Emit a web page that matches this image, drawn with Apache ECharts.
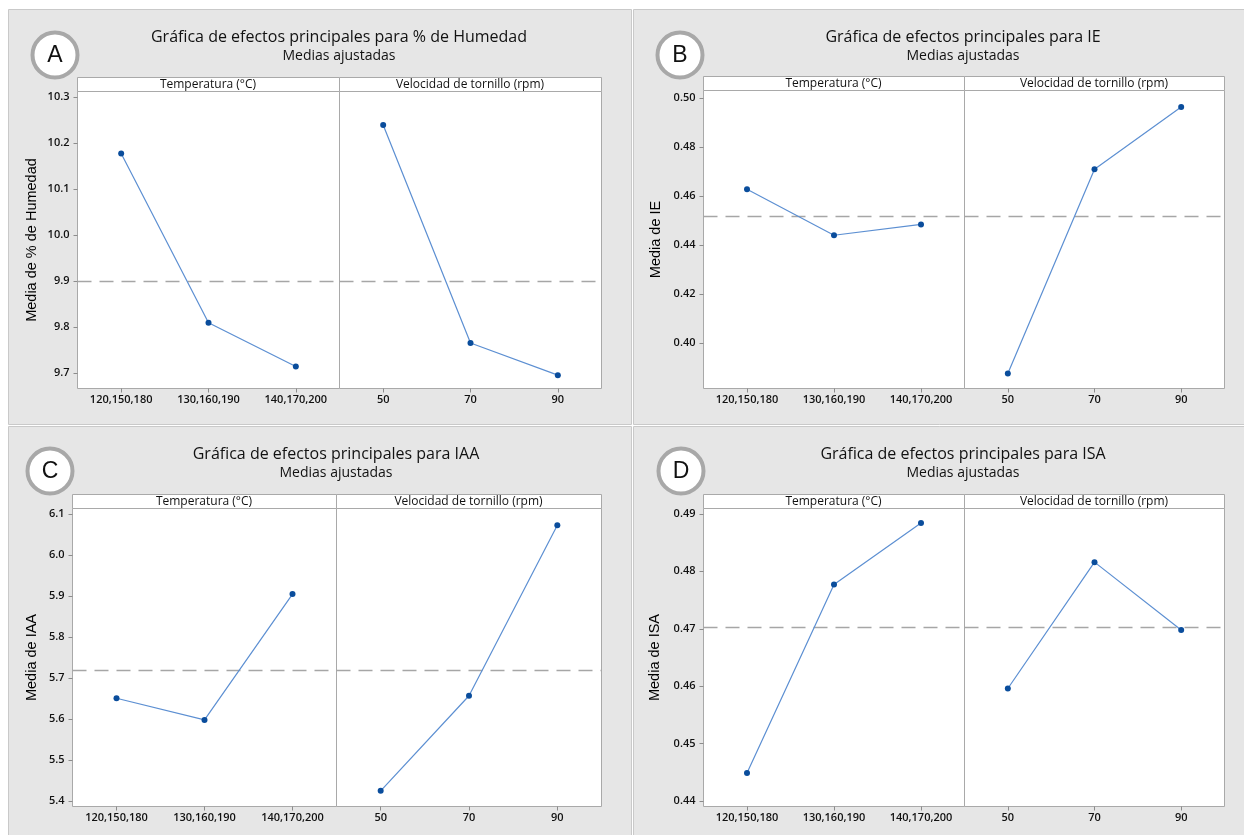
<!DOCTYPE html>
<html>
<head>
<meta charset="utf-8">
<title>Gráficas de efectos principales</title>
<script src="https://cdn.jsdelivr.net/npm/echarts@6/dist/echarts.min.js"></script>
<style>
  html, body { margin: 0; padding: 0; background: #ffffff; }
  #chart { width: 1244px; height: 835px; }
</style>
</head>
<body>
<div id="chart"></div>
<script>
// Factor levels
const tempLevels = ['120,150,180', '130,160,190', '140,170,200'];
const speedLevels = ['50', '70', '90'];

// Adjusted means: % de Humedad
const humedadTemp = [10.177, 9.809, 9.714];
const humedadSpeed = [10.239, 9.765, 9.695];
const humedadTicks = [9.7, 9.8, 9.9, 10.0, 10.1, 10.2, 10.3];

// Adjusted means: IE
const ieTemp = [0.4628, 0.4440, 0.4484];
const ieSpeed = [0.3875, 0.4710, 0.4964];
const ieTicks = [0.40, 0.42, 0.44, 0.46, 0.48, 0.50];

// Adjusted means: IAA
const iaaTemp = [5.651, 5.598, 5.905];
const iaaSpeed = [5.425, 5.657, 6.073];
const iaaTicks = [5.4, 5.5, 5.6, 5.7, 5.8, 5.9, 6.0, 6.1];

// Adjusted means: ISA
const isaTemp = [0.4449, 0.4777, 0.4884];
const isaSpeed = [0.4596, 0.4816, 0.4698];
const isaTicks = [0.44, 0.45, 0.46, 0.47, 0.48, 0.49];

const stripLabels = ['Temperatura (°C)', 'Velocidad de tornillo (rpm)'];
const subtitleText = 'Medias ajustadas';

const panels = [
  { letter: 'A', title: 'Gráfica de efectos principales para % de Humedad', yName: 'Media de % de Humedad',
    temp: humedadTemp, speed: humedadSpeed, ticks: humedadTicks, decimals: 1, yRange: [9.666, 10.312],
    box: [8, 9, 623, 415], circle: [55, 55], titleX: 339, titleY: 37, subY: 56,
    plot: { left: 77, mid: 339, right: 601, top: 77, strip: 91, bottom: 388 }, nameGap: 38 },
  { letter: 'B', title: 'Gráfica de efectos principales para IE', yName: 'Media de IE',
    temp: ieTemp, speed: ieSpeed, ticks: ieTicks, decimals: 2, yRange: [0.38136, 0.50315],
    box: [633, 9, 620, 415], circle: [680, 55], titleX: 963, titleY: 37, subY: 56,
    plot: { left: 703, mid: 964, right: 1224, top: 76, strip: 90, bottom: 388 }, nameGap: 40 },
  { letter: 'C', title: 'Gráfica de efectos principales para IAA', yName: 'Media de IAA',
    temp: iaaTemp, speed: iaaSpeed, ticks: iaaTicks, decimals: 1, yRange: [5.3868, 6.1139],
    box: [8, 426, 623, 415], circle: [50, 471], titleX: 336, titleY: 454, subY: 473,
    plot: { left: 72, mid: 336, right: 601, top: 494, strip: 508, bottom: 806 }, nameGap: 33 },
  { letter: 'D', title: 'Gráfica de efectos principales para ISA', yName: 'Media de ISA',
    temp: isaTemp, speed: isaSpeed, ticks: isaTicks, decimals: 2, yRange: [0.43906, 0.49094],
    box: [633, 426, 620, 415], circle: [681, 471], titleX: 963, titleY: 454, subY: 473,
    plot: { left: 703, mid: 964, right: 1224, top: 494, strip: 508, bottom: 806 }, nameGap: 41 }
];

const FONT = '"Open Sans", "Noto Sans", sans-serif';
const FRAME = '#a9a9a9';
const LINE_BLUE = '#5c8fd2';
const DOT_BLUE = '#0a4d9c';

const mean = arr => arr.reduce((s, v) => s + v, 0) / arr.length;

const grids = [], xAxes = [], yAxes = [], series = [], graphics = [];

panels.forEach((p, pi) => {
  const [bx, by, bw, bh] = p.box;
  // panel background
  graphics.push({ type: 'rect', z: -10, shape: { x: bx + 0.5, y: by + 0.5, width: bw, height: bh },
    style: { fill: '#e6e6e6', stroke: '#c9c9c9', lineWidth: 1 } });
  // letter badge
  graphics.push({ type: 'circle', z: 5, shape: { cx: p.circle[0], cy: p.circle[1], r: 22.5 },
    style: { fill: '#ffffff', stroke: '#a8a8a8', lineWidth: 4 } });
  graphics.push({ type: 'text', z: 6, x: p.circle[0], y: p.circle[1] + 1,
    style: { text: p.letter, font: '23px "Liberation Sans", Arial, sans-serif', fill: '#111',
      textAlign: 'center', textVerticalAlign: 'middle', align: 'center', verticalAlign: 'middle' } });
  // titles
  graphics.push({ type: 'text', z: 6, x: p.titleX, y: p.titleY,
    style: { text: p.title, font: '16px ' + FONT, fill: '#111',
      textAlign: 'center', textVerticalAlign: 'middle', align: 'center', verticalAlign: 'middle' } });
  graphics.push({ type: 'text', z: 6, x: p.titleX, y: p.subY,
    style: { text: subtitleText, font: '14px ' + FONT, fill: '#111',
      textAlign: 'center', textVerticalAlign: 'middle', align: 'center', verticalAlign: 'middle' } });

  const pl = p.plot;
  const halves = [[pl.left, pl.mid], [pl.mid, pl.right]];
  const grand = mean(p.temp.concat(p.speed));

  halves.forEach(([x0, x1], hi) => {
    // strip header
    graphics.push({ type: 'rect', z: 1, shape: { x: x0 + 0.5, y: pl.top + 0.5, width: x1 - x0, height: pl.strip - pl.top },
      style: { fill: '#ffffff', stroke: FRAME, lineWidth: 1 } });
    graphics.push({ type: 'text', z: 2, x: (x0 + x1) / 2, y: (pl.top + pl.strip) / 2 + 0.5,
      style: { text: stripLabels[hi], font: '500 12px ' + FONT, fill: '#111',
        textAlign: 'center', textVerticalAlign: 'middle', align: 'center', verticalAlign: 'middle' } });

    const gi = grids.length;
    grids.push({ left: x0 + 0.5, top: pl.strip + 0.5, width: x1 - x0, height: pl.bottom - pl.strip,
      show: true, backgroundColor: '#ffffff', borderColor: FRAME, borderWidth: 1, containLabel: false });

    xAxes.push({
      type: 'category', gridIndex: gi, data: hi === 0 ? tempLevels : speedLevels, boundaryGap: true,
      axisLine: { show: false },
      axisTick: { show: true, alignWithLabel: true, length: 4, lineStyle: { color: '#8c8c8c' } },
      axisLabel: { interval: 0, margin: 6, color: '#111', fontSize: 11, fontWeight: 600, fontFamily: FONT },
      splitLine: { show: false }
    });

    const yBase = { type: 'value', gridIndex: gi, min: p.yRange[0], max: p.yRange[1],
      splitLine: { show: false }, axisLine: { show: false } };
    if (hi === 0) {
      yAxes.push(Object.assign(yBase, {
        axisTick: { show: true, length: 4, customValues: p.ticks, lineStyle: { color: '#8c8c8c' } },
        axisLabel: { customValues: p.ticks, margin: 8, color: '#111', fontSize: 11, fontWeight: 600, fontFamily: FONT,
          formatter: v => Number(v).toFixed(p.decimals) },
        name: p.yName, nameLocation: 'middle', nameRotate: 90, nameGap: p.nameGap,
        nameTextStyle: { fontSize: 14.5, color: '#000', fontFamily: '"Liberation Sans", Arial, sans-serif' }
      }));
    } else {
      yAxes.push(Object.assign(yBase, { show: false }));
    }

    series.push({
      type: 'line', xAxisIndex: gi, yAxisIndex: gi,
      data: hi === 0 ? p.temp : p.speed,
      symbol: 'circle', symbolSize: 6, z: 4,
      itemStyle: { color: DOT_BLUE },
      lineStyle: { color: LINE_BLUE, width: 1.2 },
      emphasis: { disabled: true },
      markLine: {
        silent: true, symbol: 'none', animation: false, z: 3, precision: 6,
        label: { show: false },
        lineStyle: { type: [14, 8], color: '#a6a6a6', width: 1.3 },
        data: [{ yAxis: grand }]
      }
    });
  });
});

const chart = echarts.init(document.getElementById('chart'), null, { renderer: 'canvas' });
chart.setOption({
  backgroundColor: '#ffffff',
  animation: false,
  grid: grids,
  xAxis: xAxes,
  yAxis: yAxes,
  series: series,
  graphic: { elements: graphics }
});
</script>
</body>
</html>
